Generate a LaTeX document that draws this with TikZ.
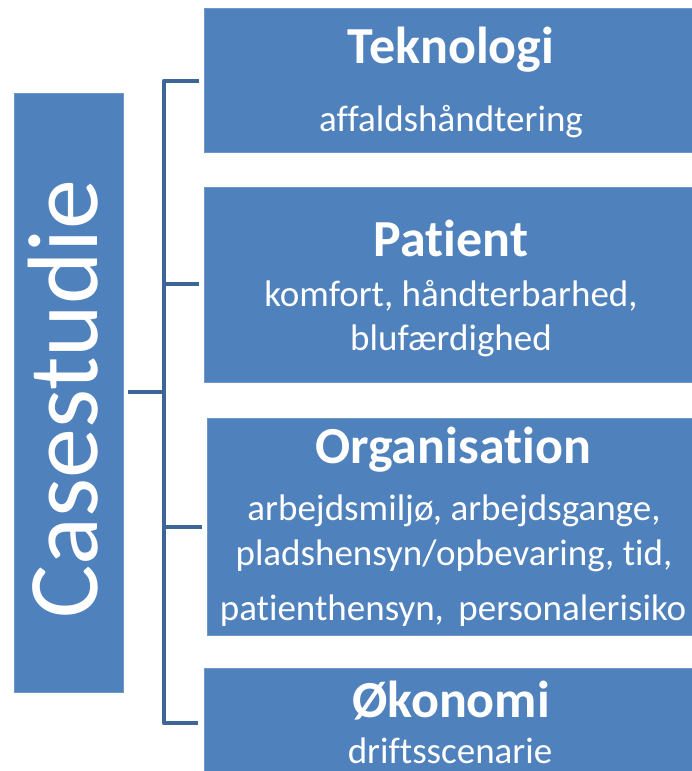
\documentclass[tikz,border=0pt]{standalone}
\usepackage{fontspec}
\setmainfont{Carlito}[Ligatures={NoCommon}]
\definecolor{boxblue}{HTML}{4F81BD}
\definecolor{boxedge}{HTML}{6F97C9}
\definecolor{linkblue}{HTML}{3D6697}
\begin{document}
\begin{tikzpicture}[x=1pt,y=-1pt,
  catbox/.style={draw=boxedge,line width=0.8pt,fill=boxblue},
  ttl/.style={text=white,font=\fontsize{52}{60}\selectfont\bfseries,anchor=base,inner sep=0pt},
  sub/.style={text=white,font=\fontsize{37}{44}\selectfont,anchor=base,inner sep=0pt},
  link/.style={draw=linkblue,line width=4.5pt,line join=round}]
\useasboundingbox (0,0) rectangle (691,771);
\fill[white] (0,0) rectangle (691,771);
% boxes
\draw[catbox] (14,93) rectangle (123,692);
\coordinate (caseE) at (128,392);
\draw[catbox] (204,8) rectangle (700,152);
\draw[catbox] (204,187) rectangle (700,382);
\draw[catbox] (207,418) rectangle (700,635);
\draw[catbox] (204,668) rectangle (700,790);
\node[text=white,font=\fontsize{100}{110}\selectfont,rotate=90,anchor=base,inner sep=0pt] (case) at (97,399) {Casestudie};
% texts
\node[ttl] (tek) at (451,63) {Teknologi};
\node[sub] (tek1) at (451,131) {affaldshåndtering};
\node[ttl] (pat) at (451,256) {Patient};
\node[sub] (pat1) at (451,306) {komfort, håndterbarhed,};
\node[sub] (pat2) at (451,350) {blufærdighed};
\node[ttl] (org) at (453,463) {Organisation};
\node[sub] (org1) at (454,520) {arbejdsmiljø, arbejdsgange,};
\node[sub] (org2) at (454,565) {pladshensyn/opbevaring, tid,};
\node[sub] (org3) at (453,620) {patienthensyn,\, personalerisiko};
\node[ttl] (oko) at (451,717) {Økonomi};
\node[sub] (oko1) at (450,763) {driftsscenarie};
% bracket
\coordinate (bT) at (164,81);
\coordinate (bB) at (164,723);
\coordinate (bM) at (164,392);
\coordinate (tT) at (199,81);
\coordinate (tP) at (199,284);
\coordinate (tO) at (202,527);
\coordinate (tK) at (198,723);
\draw[link] (tT) -- (bT) -- (bB) -- (tK);
\draw[link] (bM |- tP) -- (tP);
\draw[link] (bM |- tO) -- (tO);
\draw[link] (caseE) -- (bM);
\end{tikzpicture}
\end{document}
